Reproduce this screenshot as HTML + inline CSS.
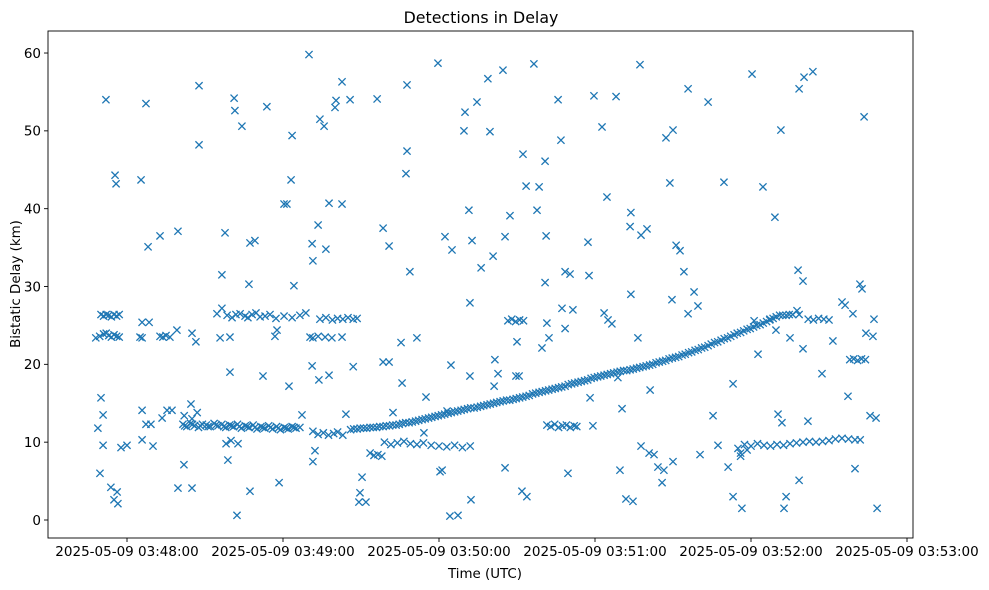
<!DOCTYPE html>
<html><head><meta charset="utf-8"><style>
body{margin:0;background:#fff;}
svg{display:block;font-family:"DejaVu Sans","Liberation Sans",sans-serif;}
</style></head><body>
<svg id="chart" width="989" height="590">
<rect width="989" height="590" fill="#fff"/>
<text x="481" y="23" font-size="15.8" text-anchor="middle">Detections in Delay</text>
<g id="marks"></g>
<rect x="48" y="31" width="865" height="507" fill="none" stroke="#000" stroke-width="0.9"/>
<g id="xaxis"></g>
<g id="yaxis"></g>
<text x="485" y="578" font-size="13.4" text-anchor="middle">Time (UTC)</text>
<text x="20" y="284" font-size="13.4" text-anchor="middle" transform="rotate(-90 20 284)">Bistatic Delay (km)</text>
</svg>
<script>
// seconds after 2025-05-09 03:48:00 UTC
const xTickSeconds = [-60, 0, 60, 120, 180, 240, 300];
const xTickLabels = ["2025-05-09 03:47:00","2025-05-09 03:48:00","2025-05-09 03:49:00","2025-05-09 03:50:00","2025-05-09 03:51:00","2025-05-09 03:52:00","2025-05-09 03:53:00"];
const yTicks = [0, 10, 20, 30, 40, 50, 60];

const trackTimes = [86,88.5,91,93.5,96,98.5,101,103.5,106,108.5,111,113.5,116,118.5,121,123.5,126,128.5,131,133.5,136,138.5,141,143.5,146,148.5,151,153.5,156,158.5,161,163.5,166,168.5,171,173.5,176,178.5,181,183.5,186,188.5,191,193.5,196,198.5,201,203.5,206,208.5,211,213.5,216,218.5,221,223.5,226,228.5,231,233.5,236,238.5,241,243.5,246,248.5,251,253.5,256,258.5];
const trackDelays = [11.6,11.7,11.8,11.9,11.9,12.0,12.1,12.2,12.4,12.5,12.7,12.9,13.1,13.3,13.5,13.7,13.9,14.1,14.3,14.4,14.6,14.8,15.0,15.2,15.4,15.5,15.7,15.9,16.2,16.4,16.6,16.8,17.0,17.2,17.5,17.7,17.9,18.2,18.4,18.6,18.8,19.0,19.2,19.3,19.5,19.7,19.9,20.2,20.4,20.7,20.9,21.2,21.5,21.8,22.1,22.4,22.8,23.1,23.4,23.8,24.1,24.5,24.8,25.1,25.5,25.9,26.3,26.3,26.4,26.4];
const track2Times = [87.2,89.7,92.2,94.7,97.2,99.7,102.2,104.7,107.2,109.7,112.2,114.7,117.2,119.7,122.2,124.7,127.2,129.7,132.2,134.7,137.2,139.7,142.2,144.7,147.2,149.7,152.2,154.7,157.2,159.7,162.2,164.7,167.2,169.7,172.2,174.7,177.2,179.7,182.2,184.7,187.2,189.7,192.2,194.7,197.2,199.7,202.2,204.7,207.2,209.7,212.2,214.7,217.2,219.7,222.2,224.7,227.2,229.7,232.2,234.7,237.2,239.7,242.2,244.7,247.2,249.7,252.2,254.7];
const track2Delays = [11.7,11.8,11.8,11.9,12.0,12.1,12.2,12.3,12.5,12.6,12.8,13.0,13.2,13.4,13.6,13.8,14.0,14.2,14.4,14.5,14.7,14.9,15.1,15.3,15.4,15.6,15.8,16.0,16.3,16.5,16.7,16.9,17.1,17.4,17.6,17.8,18.0,18.3,18.5,18.7,18.9,19.1,19.2,19.4,19.6,19.8,20.0,20.3,20.5,20.8,21.0,21.3,21.6,21.9,22.2,22.6,22.9,23.3,23.6,24.0,24.3,24.6,25.0,25.3,25.7,26.1,26.3,26.4];

const bandTimes = [-10,-9,-8,-7,-6,-5,-4,-3,-12,-10.5,-9,-8,-7,-6,-5,-4,-3,
5,5.8,12.7,13.8,15,16.5,35.8,39.6,56.9,70.4,71.5,73.5,76.2,78.8,82.7,
34.6,36.5,38.5,40.4,41.9,43.5,45.4,46.5,48.1,49.6,51.2,53.1,55,57.3,60.4,63.5,66.5,68.8,
74.2,76.5,79,81,83,85,87,88.5,
21.5,23,24.5,26,27.5,29,30.5,32,33.5,35,36.5,38,39.5,41,42.5,44,45.5,47,48.5,50,51.5,53,54.5,56,57.5,59,60.5,62,63.5,65,66.5,22,25,27,
22.2,25.2,28.2,31.2,34.2,37.2,40.2,43.2,46.2,49.2,52.2,55.2,58.2,61.2,64.2,
71.5,73.5,75.5,77.5,79.5,81,83,
99,101.5,104,106.5,109,111.5,114,117,120,123,126,129,132,
93.5,95,96.5,98,
146.5,148,149.5,151,152.5,
161.5,163,164.5,166,167.5,169,170.5,172,173,
235,236,237.5,240,242.5,245,247.5,250,252.5,255,257.5,260,262.5,265,267.5,270,272.5,275,277.5,280,282,238.5,236,
262,264,266,268,270,
278,279.5,281,282.5,284];
const bandDelays = [26.4,26.2,26.4,26.3,26.1,26.4,26.2,26.4,23.4,23.6,23.9,24.0,23.7,23.5,23.8,23.6,23.5,
23.5,23.4,23.6,23.5,23.7,23.5,23.4,23.5,23.6,23.5,23.4,23.6,23.5,23.4,23.5,
26.5,27.2,26.3,26.0,26.4,26.5,26.2,26.0,26.4,26.6,26.1,26.2,26.4,25.9,26.2,26.0,26.3,26.6,
25.8,26.0,25.7,25.9,25.8,26.0,25.8,25.9,
12.3,12.0,12.4,12.1,11.9,12.3,12.2,12.0,12.4,12.1,12.3,11.9,12.2,12.0,12.3,11.8,12.1,11.9,12.2,11.7,12.0,11.8,12.1,11.7,12.0,11.6,11.9,11.7,12.0,11.8,11.9,13.4,13.0,13.8,
12.1,12.3,12.1,12.0,12.2,12.0,12.1,12.0,12.0,11.9,11.9,11.9,11.8,11.8,11.9,
11.4,11.0,11.2,10.9,11.1,11.3,10.9,
10.0,9.7,9.9,10.1,9.8,9.7,9.9,9.6,9.5,9.4,9.6,9.3,9.5,
8.6,8.3,8.4,8.2,
25.6,25.8,25.5,25.7,25.6,
12.2,12.0,12.3,11.9,12.1,12.2,11.9,12.1,12.0,
9.2,8.6,9.7,9.5,9.8,9.6,9.5,9.7,9.6,9.8,9.9,10.0,10.1,10.0,10.1,10.2,10.4,10.5,10.4,10.3,10.3,9.0,8.2,
25.8,25.7,25.9,25.8,25.7,
20.6,20.7,20.5,20.7,20.6];

const scatterTimes = [-8.1,-4.6,-4.2,-11.2,-10,-9.2,-10.4,-9.2,-6.2,-5,-3.8,-3.5,-2.3,0,5.4,7.3,8.1,5.8,8.5,12.7,5.8,7.3,9.2,10,5.8,13.5,15.4,17.3,19.6,19.2,19.6,21.9,24.6,25,26.5,27.7,27.7,25,36.5,37.7,38.8,39.6,41.2,41.5,44.2,38.1,40,42.7,42.3,47.3,46.9,47.3,49.2,52.3,53.8,57.7,58.5,60.4,61.5,63.1,62.3,63.5,64.2,67.3,70,71.2,71.2,71.5,73.5,73.8,74.2,75.8,72.3,71.5,76.5,77.7,77.7,80,80.4,82.7,82.7,84.2,85.8,87,89.6,89.2,90.4,91.9,96.2,98.5,100.8,98.5,100.8,102.3,105.4,105.8,107.7,107.3,107.7,108.8,111.5,114.2,115,119.6,120.4,121.2,122.3,123.1,124.2,124.6,125,127.3,130,129.6,131.5,131.9,132.3,132.7,131.9,134.6,136.2,138.8,139.6,140.8,141.2,141.5,142.7,144.6,145.4,145.4,147.3,150,149.6,150.8,151.9,152.3,153.5,153.8,156.5,157.7,158.5,159.6,160.8,160.8,161.2,161.5,162.3,165.8,166.9,167.3,168.5,169.6,168.5,170.4,171.5,177.3,177.7,178.1,179.2,179.6,182.7,184.6,185,186.5,188.1,183.5,188.8,189.6,190.4,191.9,193.5,193.8,193.8,194.6,197.3,197.7,196.5,197.7,200,200.8,201.2,202.7,204.2,205.8,206.5,207.3,208.8,210,209.6,210,211.2,212.7,214.2,215.8,215.8,218.1,219.6,220.4,223.5,225.4,227.3,229.6,231.2,233.1,233.1,236.5,240.4,241.2,242.7,244.6,247.3,249.2,249.6,250.4,251.5,251.9,253.5,252.7,255,258.5,258.1,257.7,258.5,260.4,263.8,260,260,261.9,267.3,271.5,275,276.2,277.3,280,279.2,281.9,282.7,283.5,285.8,286.9,287.3,288.1,288.5,284.2];
const scatterDelays = [54,44.3,43.2,11.8,15.7,13.5,6,9.6,4.2,2.6,3.6,2.1,9.3,9.6,43.7,53.5,35.1,25.4,25.4,36.5,14.1,12.3,12.3,9.5,10.3,13.1,14.1,14.1,37.1,24.4,4.1,7.1,14.9,4.1,22.9,55.8,48.2,24,31.5,36.9,7.7,19,54.2,52.6,50.6,9.8,10.2,9.8,0.6,3.7,30.3,35.6,35.9,18.5,53.1,24.4,4.8,40.6,40.6,43.7,17.2,49.4,30.1,13.5,59.8,19.8,35.5,33.3,37.9,18,51.5,50.6,8.9,7.5,34.8,18.6,40.7,53,53.9,56.3,40.6,13.6,54,19.7,3.5,2.3,5.5,2.3,54.1,37.5,35.2,20.3,20.3,13.8,22.8,17.6,55.9,44.5,47.4,31.9,23.4,11.2,15.8,58.7,6.2,6.4,36.4,14,0.5,19.9,34.7,0.6,52.4,50,39.8,18.5,2.6,35.9,27.9,53.7,32.4,56.7,49.9,33.9,17.2,20.6,18.8,57.8,36.4,6.7,39.1,22.9,18.5,18.5,3.7,47,42.9,3,58.6,39.8,42.8,22.1,46.1,30.5,36.5,25.3,23.4,54,48.8,27.2,24.6,6,31.9,31.6,27,35.7,31.4,15.7,12.1,54.5,50.5,41.5,25.7,25.2,54.4,26.6,18.3,6.4,14.3,2.7,37.7,39.5,29,2.4,58.5,9.5,23.4,36.6,37.4,8.6,16.7,8.4,6.8,4.8,6.4,49.1,43.3,50.1,28.3,7.5,35.3,34.6,31.9,55.4,26.5,29.3,27.5,8.4,53.7,13.4,9.6,43.4,6.8,3,17.5,1.5,57.3,25.6,21.3,42.8,25.8,38.9,24.4,13.6,50.1,12.5,3,1.5,23.4,55.4,32.1,26.9,5.1,56.9,57.6,30.7,22,12.7,18.8,23,28,27.6,15.9,6.6,26.5,30.3,29.7,51.8,13.4,23.6,25.8,13.1,1.5,24];

const NS = "http://www.w3.org/2000/svg";
const X0 = 127, PX_PER_SEC = 2.6;
const Y0 = 520, PX_PER_KM = 7.783;
function xScale(t){ return X0 + t * PX_PER_SEC; }
function yScale(d){ return Y0 - d * PX_PER_KM; }
function mk(tag, attrs, parent){
  const el = document.createElementNS(NS, tag);
  for (const k in attrs) el.setAttribute(k, attrs[k]);
  parent.appendChild(el);
  return el;
}
const xaxis = document.getElementById('xaxis');
xTickSeconds.forEach((s, i) => {
  const x = xScale(s);
  if (x < 48 || x > 913) return;
  const tk = mk('line', {x1:x, x2:x, y1:538, y2:542, stroke:'#000', 'stroke-width':0.9}, xaxis);
  
  
  const tx = mk('text', {x:x, y:556, 'font-size':13.5, 'text-anchor':'middle'}, xaxis);
  tx.textContent = xTickLabels[i];
  
  
});
const yaxis = document.getElementById('yaxis');
yTicks.forEach(v => {
  const y = yScale(v);
  const tk = mk('line', {x1:44, x2:48, y1:y, y2:y, stroke:'#000', 'stroke-width':0.9}, yaxis);
  
  
  const tx = mk('text', {x:41, y:y+4.8, 'font-size':13.5, 'text-anchor':'end'}, yaxis);
  tx.textContent = String(v);
  
  
});
const marks = document.getElementById('marks');
const allT = trackTimes.concat(track2Times, bandTimes, scatterTimes);
const allD = trackDelays.concat(track2Delays, bandDelays, scatterDelays);
const r = 3.6;
allT.forEach((t, i) => {
  const x = xScale(t), y = yScale(allD[i]);
  const p = mk('path', {d:`M${x-r},${y-r}L${x+r},${y+r}M${x-r},${y+r}L${x+r},${y-r}`, stroke:'#1f77b4', 'stroke-width':1.3, fill:'none'}, marks);
  
  
});
</script>
</body></html>
